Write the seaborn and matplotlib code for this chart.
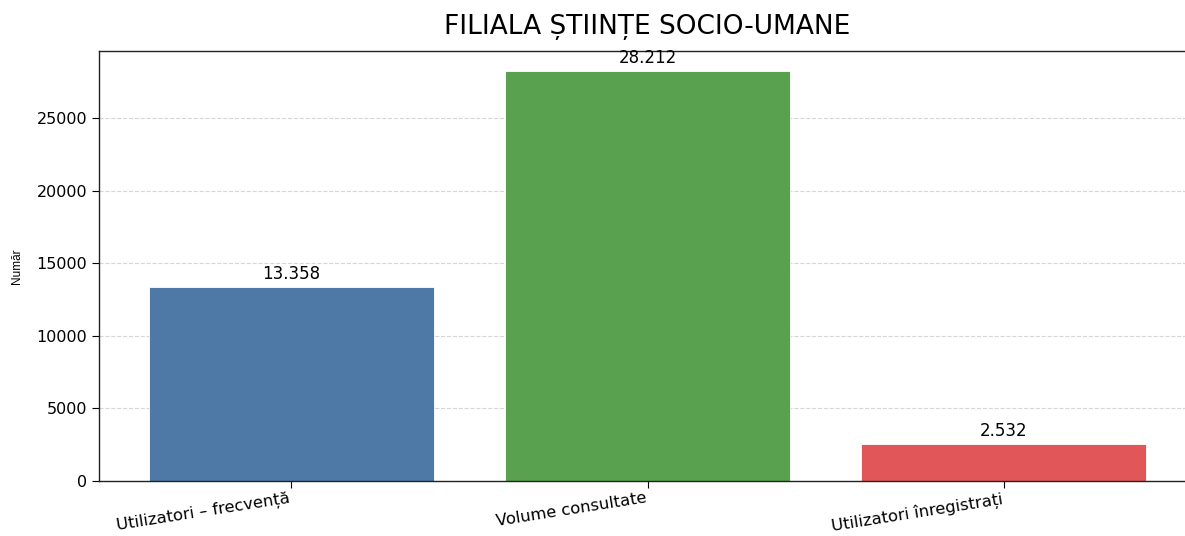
import matplotlib
matplotlib.use("Agg")
import matplotlib.pyplot as plt
import seaborn as sns
import pandas as pd

categories = ["Utilizatori – frecvență", "Volume consultate", "Utilizatori înregistrați"]
values = [13358, 28212, 2532]
colors = ["#4e79a7", "#59a14f", "#e15759"]
title = "FILIALA ȘTIINȚE SOCIO-UMANE"
ylabel = "Număr"

sns.set_style("ticks")
plt.rcParams['font.family'] = ['DejaVu Sans']
plt.rcParams['text.color'] = 'black'
plt.rcParams['axes.labelcolor'] = 'black'
plt.rcParams['xtick.color'] = 'black'
plt.rcParams['ytick.color'] = 'black'

df = pd.DataFrame({"cat": categories, "val": values})

fig = plt.figure(figsize=(11.85, 5.36), dpi=100)
ax = fig.add_axes([99/1185, 55/536, 1097/1185, 430/536])

sns.barplot(data=df, x="cat", y="val", hue="cat", palette=colors, legend=False,
            ax=ax, width=0.8, edgecolor="white", linewidth=0.6, saturation=1)

ax.set_xlim(-0.54, 2.54)
ax.set_ylim(0, max(values) * 1.05)
ax.yaxis.grid(True, linestyle="--", color="#cccccc", linewidth=0.8, alpha=0.8)
ax.set_axisbelow(True)

for c in ax.containers:
    ax.bar_label(c, labels=[f"{int(v.get_height()):,}".replace(",", ".") for v in c],
                 padding=3, fontsize=12)

ax.set_title(title, fontsize=19, pad=12)
ax.set_xlabel("")
ax.set_ylabel(ylabel, fontsize=8.5, labelpad=10, family=["Liberation Sans", "DejaVu Sans"])
ax.tick_params(axis="y", labelsize=11.5, length=5)
ax.tick_params(axis="x", labelsize=11.8, length=5, pad=2)
plt.setp(ax.get_xticklabels(), rotation=9, ha="right")
for s in ax.spines.values():
    s.set_color("#222222")
    s.set_linewidth(1.0)

fig.savefig("out.png", dpi=100)
